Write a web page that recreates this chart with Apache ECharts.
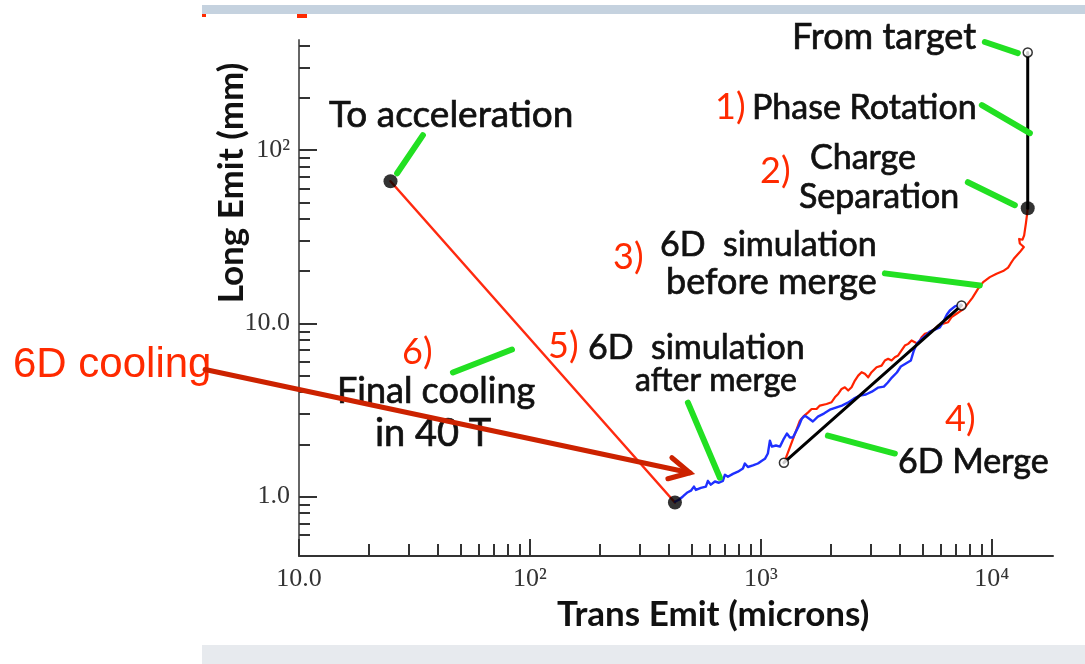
<!DOCTYPE html>
<html><head><meta charset="utf-8">
<script src="https://cdn.jsdelivr.net/npm/echarts@6/dist/echarts.min.js"></script>
<style>html,body{margin:0;padding:0;background:#fff;}#c{width:1085px;height:664px;}</style>
</head><body><div id="c"></div>
<script>
// ---- tick values / labels ----
const xMajorTicks = [10, 100, 1000, 10000];
const xMajorLabels = ['10.0', '10²', '10³', '10⁴'];
const xMinorTicks = [20,30,40,50,60,70,80,90,200,300,400,500,600,700,800,900,2000,3000,4000,5000,6000,7000,8000,9000];
const yMajorTicks = [1, 10, 100];
const yMajorLabels = ['1.0', '10.0', '10²'];
const yMinorTicks = [0.6,0.7,0.8,0.9,2,3,4,5,6,7,8,9,20,30,40,50,60,70,80,90,200,300,400];

// ---- series data [trans emit (microns), long emit (mm)] ----
const targetLine = [[14300, 367], [14300, 46.2]];
const redBeforeMerge = [[14300,46.2],[14220,43.0],[14040,37.7],[13800,32.2],[13580,30.4],[13130,30.7],[13220,28.9],[13760,27.6],[13220,25.8],[12450,23.6],[12050,22.1],[11760,20.96],[11190,20.03],[10480,19.35],[9802,18.49],[9170,17.30],[8724,15.85],[8236,14.02],[7773,12.69],[7393,11.87],[7034,11.36],[6692,10.85],[6469,10.15],[6156,9.94],[5855,9.72],[5665,9.30],[5390,8.89],[5129,8.70],[4963,8.32],[4798,7.61],[4642,7.78],[4492,7.96],[4343,7.61],[4201,7.44],[4065,6.97],[3930,6.52],[3802,6.37],[3679,6.10],[3556,6.24],[3442,6.10],[3331,5.70],[3169,5.58],[3014,5.22],[2913,4.88],[2819,5.11],[2729,5.22],[2638,4.99],[2553,4.67],[2470,4.27],[2388,4.09],[2310,4.27],[2236,4.18],[2161,3.91],[2091,3.74],[2023,3.50],[1925,3.42],[1800,3.35],[1742,3.20],[1658,3.20],[1602,3.06],[1525,2.89],[1475,2.74],[1404,2.30],[1335,1.92],[1270,1.61]];
const blueAfterMerge = [[7342,12.85],[6916,12.52],[6579,11.87],[6388,11.25],[6137,10.11],[5956,9.46],[5665,9.21],[5390,8.97],[5180,8.50],[4927,8.06],[4735,7.64],[4596,6.97],[4460,6.10],[4243,5.86],[4036,5.63],[3879,5.20],[3690,4.86],[3545,4.55],[3408,4.31],[3210,4.25],[3023,4.03],[2848,3.88],[2683,3.82],[2526,3.67],[2380,3.48],[2242,3.35],[2112,3.26],[1989,3.17],[1874,3.01],[1765,2.89],[1679,2.71],[1614,2.82],[1551,2.93],[1505,2.82],[1461,2.56],[1418,2.37],[1376,2.19],[1335,2.19],[1296,2.31],[1258,2.16],[1209,1.94],[1161,1.97],[1116,1.94],[1094,2.10],[1072,1.77],[1041,1.65],[1010,1.61],[970.5,1.55],[923.4,1.51],[878.5,1.48],[852.3,1.55],[835.8,1.45],[795.2,1.39],[756.5,1.35],[719.7,1.30],[698.6,1.335],[684.7,1.23],[657.9,1.20],[632.2,1.22],[607.4,1.17],[589.5,1.23],[577.9,1.14],[549.8,1.12],[523.1,1.09],[512.9,1.14],[497.7,1.08],[478.2,1.05],[459.5,1.00],[441.6,0.957],[424.4,0.932]];
const mergeLine = [[7393, 12.69], [1258, 1.566]];
const finalCooling = [[424.4, 0.923], [24.9, 66.2]];
const openPoints = [[14300, 367], [7393, 12.69], [1258, 1.566]];
const filledPoints = [[14300, 46.2], [24.9, 66.2], [424.4, 0.923]];
const leaderFromTarget = [[9327, 421.5], [12960, 364]];
const leaderPhaseRot = [[9052, 182.2], [14610, 125.4]];
const leaderChargeSep = [[7873, 65.3], [12580, 48.1]];
const leaderBeforeMerge = [[3442, 19.43], [8873, 16.56]];
const leaderMerge = [[1950, 2.245], [3802, 1.77]];
const leaderAfterMerge = [[483.1, 3.48], [664.5, 1.283]];
const leaderFinal = [[46.4, 5.20], [83.6, 7.06]];
const leaderAccel = [[34.4, 122.1], [26.6, 73.6]];
const arrowShaft = [[3.92, 5.41], [492.7, 1.371]];
const arrowHead = [[411.8, 1.674], [492.7, 1.371], [395.8, 1.266]];

const X_MIN = 10, X_MAX = 18400, Y_MIN = 0.453, Y_MAX = 433;

function fmtFrom(ticks, labels) {
  return v => {
    const e = Math.log10(v);
    for (let i = 0; i < ticks.length; i++) if (Math.abs(Math.log10(ticks[i]) - e) < 0.01) return labels[i];
    return '';
  };
}

function lineSeries(data, color, width, z) {
  return {
    type: 'line', data, xAxisIndex: 0, yAxisIndex: 0, symbol: 'none', silent: true,
    lineStyle: { color, width, cap: 'round', join: 'round' }, z, animation: false, clip: false
  };
}

const green = '#22e022';
const leaders = [leaderFromTarget, leaderPhaseRot, leaderChargeSep, leaderBeforeMerge, leaderMerge, leaderAfterMerge, leaderFinal, leaderAccel];

const RED = '#ff2a00', INK = '#111';
function txt(text, left, baseline, size, color, opts) {
  opts = opts || {};
  const style = { text, fill: color, font: `${opts.weight || 'normal'} ${size}px ${opts.family || 'Lato'}`, textAlign: 'left', textVerticalAlign: 'middle' };
  if (opts.stroke) { style.stroke = color; style.lineWidth = opts.stroke; }
  return { type: 'text', x: left, y: baseline - 0.3 * size, z: 1, style };
}

const baseGraphics = [
  { type: 'rect', z: 0, shape: { x: 202, y: 5, width: 883, height: 9 }, style: { fill: '#c5d2df' } },
  { type: 'rect', z: 0, shape: { x: 202, y: 645, width: 883, height: 19 }, style: { fill: '#e7eaee' } },
  { type: 'rect', z: 0, shape: { x: 202, y: 14, width: 4, height: 3 }, style: { fill: '#ff2a00' } },
  { type: 'rect', z: 0, shape: { x: 297, y: 14, width: 10, height: 4 }, style: { fill: '#ff2a00' } },
  txt('From target', 792, 48, 36, INK, { stroke: 0.7 }),
  txt('1)', 715, 118, 36, RED),
  txt('Phase Rotation', 752, 118, 34, INK, { stroke: 0.7 }),
  txt('2)', 760, 182, 36, RED),
  txt('Charge', 810, 168, 34, INK, { stroke: 0.7 }),
  txt('Separation', 799, 207, 34, INK, { stroke: 0.7 }),
  txt('3)', 613, 268, 36, RED),
  txt('6D  simulation', 660, 255, 34, INK, { stroke: 0.7 }),
  txt('before merge', 666, 293, 36, INK, { stroke: 0.7 }),
  txt('4)', 945, 430, 36, RED),
  txt('6D Merge', 898, 472, 34, INK, { stroke: 0.7 }),
  txt('5)', 548, 357, 36, RED),
  txt('6D  simulation', 588, 358, 34, INK, { stroke: 0.7 }),
  txt('after merge', 635, 390, 32, INK, { stroke: 0.7 }),
  txt('6)', 402, 363, 36, RED),
  txt('Final cooling', 337, 402, 36, INK, { stroke: 0.7 }),
  txt('in 40 T', 375, 445, 38, INK, { stroke: 0.7 }),
  txt('To acceleration', 329, 126, 37, INK, { stroke: 0.7 }),
  txt('6D cooling', 13, 378, 42, RED, { family: 'Liberation Sans' }),
  { type: 'text', x: 232, y: 183, rotation: Math.PI / 2, z: 1,
    style: { text: 'Long Emit (mm)', fill: INK, font: 'bold 35px Lato', textAlign: 'center', textVerticalAlign: 'middle' } },
  txt('Trans Emit (microns)', 557, 625, 35, INK, { weight: 'bold' })
];

const chart = echarts.init(document.getElementById('c'), null, { renderer: 'canvas' });
chart.setOption({
  animation: false,
  backgroundColor: '#ffffff',
  grid: { left: 299, top: 40, right: 32, bottom: 108, containLabel: false },
  xAxis: [
    { type: 'log', logBase: 10, min: X_MIN, max: X_MAX, position: 'bottom',
      axisLine: { show: true, onZero: false, lineStyle: { color: '#333', width: 2 } },
      axisTick: { show: true, inside: true, length: 17, lineStyle: { color: '#333', width: 2 }, customValues: xMajorTicks },
      axisLabel: { show: true, margin: 10, color: '#333', fontFamily: 'Liberation Serif', fontSize: 26, customValues: xMajorTicks, formatter: fmtFrom(xMajorTicks, xMajorLabels) },
      splitLine: { show: false } },
    { type: 'log', logBase: 10, min: X_MIN, max: X_MAX, position: 'bottom', gridIndex: 0,
      axisLine: { show: false },
      axisTick: { show: true, inside: true, length: 12, lineStyle: { color: '#333', width: 2 }, customValues: xMinorTicks },
      axisLabel: { show: false }, splitLine: { show: false } }
  ],
  yAxis: [
    { type: 'log', logBase: 10, min: Y_MIN, max: Y_MAX, position: 'left',
      axisLine: { show: true, onZero: false, lineStyle: { color: '#666', width: 2 } },
      axisTick: { show: true, inside: true, length: 18, lineStyle: { color: '#333', width: 2 }, customValues: yMajorTicks },
      axisLabel: { show: true, margin: 9, color: '#333', fontFamily: 'Liberation Serif', fontSize: 26, customValues: yMajorTicks, formatter: fmtFrom(yMajorTicks, yMajorLabels) },
      splitLine: { show: false } },
    { type: 'log', logBase: 10, min: Y_MIN, max: Y_MAX, position: 'left', gridIndex: 0,
      axisLine: { show: false },
      axisTick: { show: true, inside: true, length: 11, lineStyle: { color: '#333', width: 2 }, customValues: yMinorTicks },
      axisLabel: { show: false }, splitLine: { show: false } }
  ],
  series: [
    lineSeries(finalCooling, '#ff2a10', 2.5, 3),
    lineSeries(redBeforeMerge, '#ff2200', 2.2, 3),
    lineSeries(blueAfterMerge, '#1f30ff', 2.4, 4),
    lineSeries(targetLine, '#000', 3, 5),
    lineSeries(mergeLine, '#000', 3, 5),
    ...leaders.map(d => lineSeries(d, green, 6, 6)),
    { type: 'scatter', data: openPoints, symbol: 'circle', symbolSize: 9, silent: true, z: 7,
      itemStyle: { color: '#fff', borderColor: '#000', borderWidth: 1.5 } },
    { type: 'scatter', data: filledPoints, symbol: 'circle', symbolSize: 14, silent: true, z: 7,
      itemStyle: { color: '#000' } }
  ],
  graphic: baseGraphics
});

// red arrow: data coordinates converted through the chart's own axes (start lies left of the axis range)
const toPx = p => chart.convertToPixel({ seriesIndex: 0 }, p);
chart.setOption({
  graphic: baseGraphics.concat([
    { type: 'polyline', z: 20, shape: { points: arrowShaft.map(toPx) }, style: { stroke: '#cc2200', lineWidth: 5, fill: null, lineCap: 'round' } },
    { type: 'polyline', z: 20, shape: { points: arrowHead.map(toPx) }, style: { stroke: '#cc2200', lineWidth: 5, fill: null, lineCap: 'round', lineJoin: 'miter' } }
  ])
});
</script></body></html>
